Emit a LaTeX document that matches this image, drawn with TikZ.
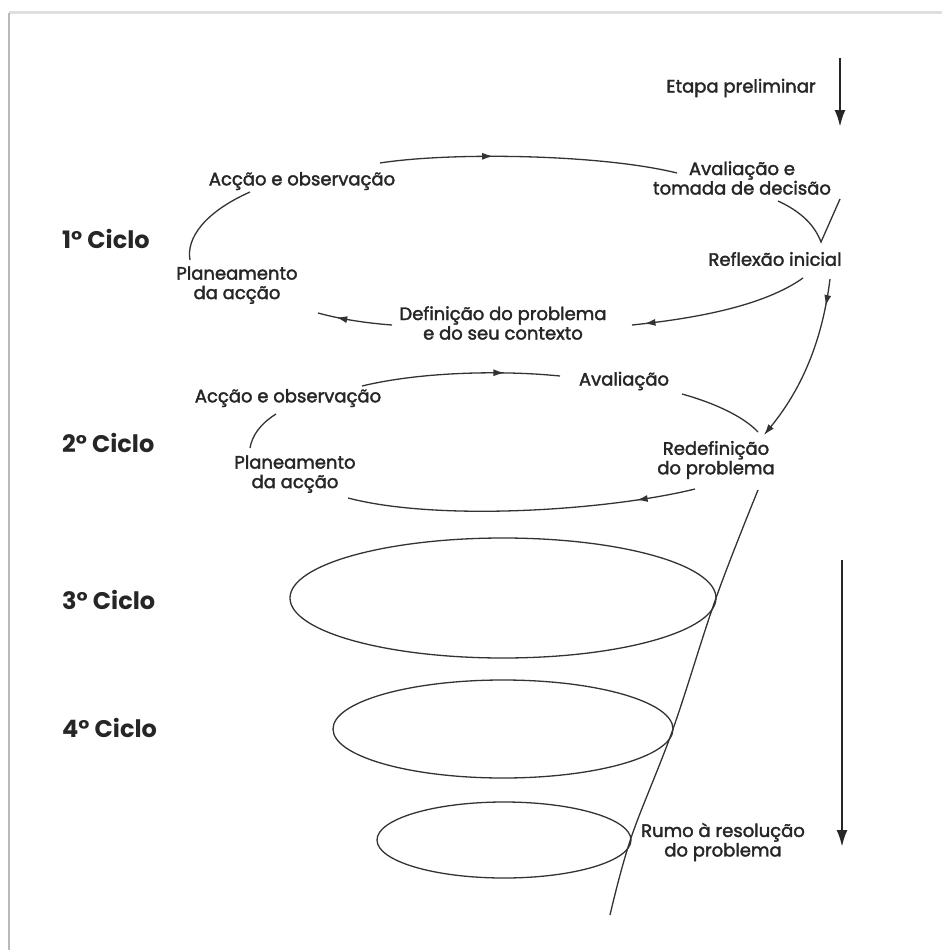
\documentclass[tikz,border=0pt]{standalone}
\usepackage{fontspec}
\setmainfont{Poppins}
\newfontfamily\lblfont{Poppins}[FakeBold=2]
\usetikzlibrary{arrows.meta,decorations.markings,shapes.geometric}
\tikzset{
  lbl/.style={font=\lblfont\fontsize{18}{19.5}\selectfont, align=center, inner sep=0pt, text=black!85},
  cyc/.style={font=\fontsize{24}{28}\selectfont\bfseries, anchor=west, inner sep=0pt, text=black!85},
  curve/.style={draw=black!80, line width=1.3pt},
  midarrow/.style={postaction={decorate}, decoration={markings, mark=at position #1 with {\arrow{Latex[length=11pt,width=7pt]}}}},
  bigarrow/.style={line width=2.6pt, black!85, -{Latex[length=17pt,width=11pt]}},
  ell/.style={draw=black!80, line width=1.3pt, ellipse, inner sep=0pt},
}
\begin{document}
\begin{tikzpicture}[x=1pt,y=-1pt]
\useasboundingbox (0,0) rectangle (942,950);
\fill[white] (0,0) rectangle (942,950);
% frame
\draw[gray!25, line width=3pt] (9,13) -- (942,13);
\draw[gray!55, line width=2.5pt] (9,13) -- (9,950);

% labels
\node[lbl] (etapa) at (741,88) {Etapa preliminar};
\node[cyc] (c1) at (62,239) {1° Ciclo};
\node[cyc] (c2) at (62,443) {2° Ciclo};
\node[cyc] (c3) at (62,600) {3° Ciclo};
\node[cyc] (c4) at (62,728) {4° Ciclo};

\node[lbl] (acc1) at (302,181) {Acção e observação};
\node[lbl] (aval1) at (742,178) {Avaliação e\\tomada de decisão};
\node[lbl] (refl) at (775,259) {Reflexão inicial};
\node[lbl] (plan1) at (237,285) {Planeamento\\da acção};
\node[lbl] (def1) at (503,323) {Definição do problema\\e do seu contexto};

\node[lbl] (acc2) at (288,398) {Acção e observação};
\node[lbl] (aval2) at (624,381) {Avaliação};
\node[lbl] (plan2) at (295,474) {Planeamento\\da acção};
\node[lbl] (redef) at (716,460) {Redefinição\\do problema};
\node[lbl] (rumo) at (723,842) {Rumo à resolução\\do problema};

% arrows at right
\coordinate (ea) at (840,58);
\coordinate (eb) at (840,127);
\draw[bigarrow] (ea) -- (eb);
\coordinate (ra) at (842,560);
\coordinate (rb) at (842,847);
\draw[bigarrow] (ra) -- (rb);

% cycle 1
\coordinate (t1a) at (380,163);
\coordinate (t1b) at (677,173);
\draw[curve, midarrow=0.38] (t1a) .. controls (450,152) and (600,154) .. (t1b);
\coordinate (l1a) at (250,192);
\coordinate (l1b) at (190,260);
\draw[curve] (l1a) .. controls (205,212) and (186,238) .. (l1b);
\coordinate (v1) at (778,201);
\coordinate (v2) at (840,199);
\coordinate (vap) at (821,242);
\draw[curve] (v1) .. controls (802,212) and (815,226) .. (vap) -- (v2);
\coordinate (r1a) at (803,278);
\coordinate (r1b) at (632,325);
\draw[curve, midarrow=0.93] (r1a) .. controls (765,305) and (700,318) .. (r1b);
\coordinate (d1a) at (392,325);
\coordinate (d1b) at (318,313);
\draw[curve, midarrow=0.75] (d1a) .. controls (365,323) and (340,319) .. (d1b);

% spiral 1 -> 2
\coordinate (s1a) at (830,279);
\coordinate (s1b) at (764,435);
\draw[curve, midarrow=0.16, -{Latex[length=11pt,width=7pt]}] (s1a) .. controls (823,335) and (805,385) .. (s1b);

% cycle 2
\coordinate (t2a) at (362,386);
\coordinate (t2b) at (560,376);
\draw[curve, midarrow=0.72] (t2a) .. controls (420,372) and (500,370) .. (t2b);
\coordinate (l2a) at (276,414);
\coordinate (l2b) at (250,448);
\draw[curve] (l2a) .. controls (260,424) and (252,436) .. (l2b);
\coordinate (rt2a) at (682,394);
\coordinate (rt2b) at (758,432);
\draw[curve] (rt2a) .. controls (718,404) and (745,418) .. (rt2b);
\coordinate (b2a) at (695,489);
\coordinate (b2b) at (348,498);
\draw[curve, midarrow=0.17] (b2a) .. controls (610,510) and (440,522) .. (b2b);

% spiral down
\coordinate (p0) at (758,490);
\coordinate (p1) at (716,598);
\coordinate (p2) at (673,729);
\coordinate (p3) at (631,838);
\coordinate (p4) at (610,915);
\draw[curve] plot[smooth, tension=0.6] coordinates {(p0) (p1) (p2) (p3) (p4)};

% ellipses
\node[ell, minimum width=426pt, minimum height=120pt] (e3) at (503,598) {};
\node[ell, minimum width=340pt, minimum height=98pt] (e4) at (503,729) {};
\node[ell, minimum width=254pt, minimum height=76pt] (e5) at (504,840) {};
\end{tikzpicture}
\end{document}
